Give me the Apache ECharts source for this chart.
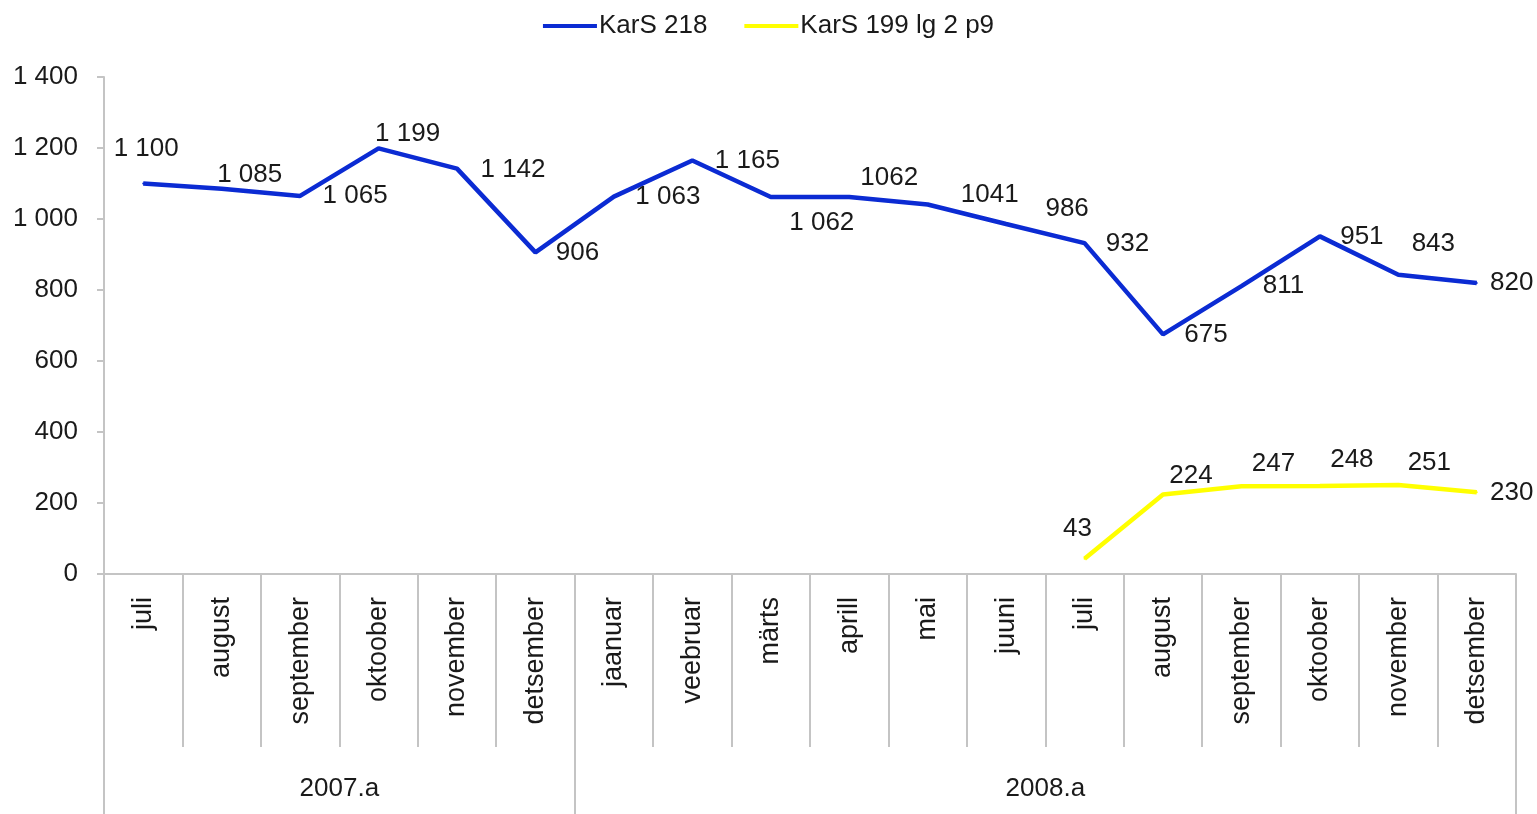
<!DOCTYPE html>
<html>
<head>
<meta charset="utf-8">
<script src="https://cdn.jsdelivr.net/npm/echarts@6/dist/echarts.min.js"></script>
<style>html,body{margin:0;padding:0;background:#fff}#c{width:1537px;height:814px}</style>
</head>
<body>
<div id="c"></div>
<script>
const months = ['juli','august','september','oktoober','november','detsember','jaanuar','veebruar','märts','aprill','mai','juuni','juli','august','september','oktoober','november','detsember'];
const years = ['2007.a', '2008.a'];
const yearSpans = [6, 12];
const seriesNames = ['KarS 218', 'KarS 199 lg 2 p9'];
const kars218 = [1100, 1085, 1065, 1199, 1142, 906, 1063, 1165, 1062, 1062, 1041, 986, 932, 675, 811, 951, 843, 820];
const kars199 = [null, null, null, null, null, null, null, null, null, null, null, null, 43, 224, 247, 248, 251, 230];
const yTicks = [0, 200, 400, 600, 800, 1000, 1200, 1400];
// label text without thousands space for these points (as in the original)
const plainLabelIdx = [9, 10];

// label placement (styling only)
const offsA = [[3,-35],[28,-14],[55,0],[29,-15],[56,1],[42,0],[54,0],[55,0],[51,26],[40,-19],[62,-10],[61,-15],[43,1],[43,0],[42,0],[42,0],[35,-31],[35,0]];
const offsB = [null,null,null,null,null,null,null,null,null,null,null,null,[-7,-30],[28,-19],[32,-22],[32,-26],[31,-22],[35,0]];

const FONT = '"Liberation Sans", Arial, sans-serif';
const FS = 26;
const TXT = '#1a1a1a';
const GRAY = '#c4c4c4';
const BLUE = '#0b2bd3';

function fmt(v) {
  return String(v).replace(/\B(?=(\d{3})+(?!\d))/g, ' ');
}

const dataA = kars218.map((v, i) => ({
  value: v,
  label: {
    offset: offsA[i],
    formatter: plainLabelIdx.indexOf(i) >= 0 ? String(v) : fmt(v)
  }
}));
const dataB = kars199.map((v, i) => v == null ? null : ({
  value: v,
  label: { offset: offsB[i], formatter: fmt(v) }
}));

const boundaries = [0];
const mids = [];
yearSpans.forEach((s) => {
  const start = boundaries[boundaries.length - 1];
  mids.push(start + s / 2);
  boundaries.push(start + s);
});

const chart = echarts.init(document.getElementById('c'));
chart.setOption({
  animation: false,
  textStyle: { fontFamily: FONT },
  legend: {
    top: 8,
    left: 'center',
    icon: 'rect',
    itemWidth: 54,
    itemHeight: 4,
    itemGap: 37,
    textStyle: { fontSize: FS, color: TXT, fontFamily: FONT, padding: [0, 0, 0, -3] },
    data: seriesNames
  },
  grid: { left: 104, right: 21, top: 77, bottom: 240, containLabel: false },
  xAxis: [
    {
      type: 'category',
      data: months,
      boundaryGap: true,
      position: 'bottom',
      axisLine: { show: true, lineStyle: { color: GRAY, width: 2 } },
      axisTick: { show: true, interval: 0, length: 173, lineStyle: { color: GRAY, width: 2 } },
      axisLabel: { interval: 0, rotate: 90, margin: 23, fontSize: 27, color: TXT, fontFamily: FONT },
      splitLine: { show: false }
    },
    {
      type: 'value',
      min: 0,
      max: boundaries[boundaries.length - 1],
      position: 'bottom',
      axisLine: { show: false },
      axisTick: { show: true, customValues: boundaries, length: 240, lineStyle: { color: GRAY, width: 2 } },
      axisLabel: {
        show: true,
        customValues: mids,
        margin: 202,
        fontSize: FS,
        color: TXT,
        fontFamily: FONT,
        formatter: function (v) { return years[mids.indexOf(v)]; }
      },
      splitLine: { show: false }
    }
  ],
  yAxis: {
    type: 'value',
    min: 0,
    max: 1400,
    interval: 200,
    axisLine: { show: true, lineStyle: { color: GRAY, width: 2 } },
    axisTick: { show: true, length: 7, lineStyle: { color: GRAY, width: 2 } },
    axisLabel: { margin: 26, fontSize: FS, color: TXT, fontFamily: FONT, formatter: v => fmt(v) },
    splitLine: { show: false }
  },
  series: [
    {
      name: seriesNames[0],
      type: 'line',
      data: dataA,
      xAxisIndex: 0,
      color: BLUE,
      lineStyle: { width: 4.5, color: BLUE },
      symbol: 'circle',
      symbolSize: 2,
      showSymbol: true,
      label: { show: true, position: 'inside', fontSize: FS, color: TXT, fontFamily: FONT, align: 'center', verticalAlign: 'middle' }
    },
    {
      name: seriesNames[1],
      type: 'line',
      data: dataB,
      xAxisIndex: 0,
      color: '#ffff00',
      lineStyle: { width: 4.5, color: '#ffff00' },
      symbol: 'circle',
      symbolSize: 2,
      showSymbol: true,
      label: { show: true, position: 'inside', fontSize: FS, color: TXT, fontFamily: FONT, align: 'center', verticalAlign: 'middle' }
    }
  ]
});
</script>
</body>
</html>
